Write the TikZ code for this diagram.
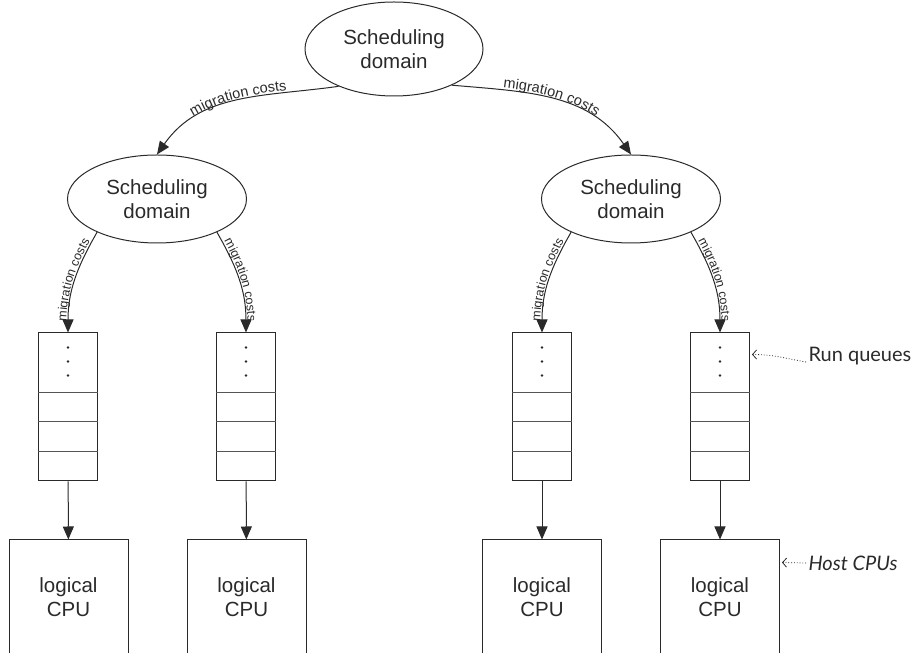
\documentclass[tikz,border=0pt]{standalone}
\usepackage{fontspec}
\setmainfont{Liberation Sans}
\newfontfamily\annofont{Lato}
\usetikzlibrary{shapes.geometric,arrows.meta,decorations.text}
\definecolor{ln}{HTML}{2A2A2A}
\definecolor{qg}{HTML}{555555}
\tikzset{
  dom/.style={ellipse, draw=ln, text=ln, inner sep=0pt, align=center,
    font=\fontsize{20.5}{24}\selectfont},
  queue/.style={rectangle, draw=ln, minimum width=59pt, minimum height=148pt, inner sep=0pt},
  cpu/.style={rectangle, draw=ln, text=ln, minimum width=119pt, minimum height=115pt,
    inner sep=0pt, align=center, font=\fontsize{20.5}{24}\selectfont},
  arr/.style={draw=ln, line width=1pt, -{Triangle[length=13pt,width=11pt]}},
  qline/.style={draw=qg, line width=1pt},
  anno/.style={text=ln, inner sep=0pt, anchor=west, font=\annofont\fontsize{20}{24}\selectfont},
  annoarr/.style={draw=ln, dotted, line width=0.8pt, -{Straight Barb[length=4pt,width=9pt]}},
  biglab/.style={decorate, decoration={text along path, text align=center, raise=2pt,
    text={|\fontsize{14.5}{14.5}\selectfont\color{ln}|migration costs}}},
  smalllab/.style={decorate, decoration={text along path, text align=center, raise=2pt,
    text={|\fontsize{12.5}{12.5}\selectfont\color{ln}|migration costs}}}
}
\begin{document}
\begin{tikzpicture}[x=1pt,y=1pt,line width=1pt]
\useasboundingbox (0,0) rectangle (916,653);

% scheduling domains
\node[dom, minimum width=178pt, minimum height=94pt] (top) at (394,604) {Scheduling\\domain};
\node[dom, minimum width=179pt, minimum height=88pt] (L) at (157,454) {Scheduling\\domain};
\node[dom, minimum width=179pt, minimum height=88pt] (R) at (631,454) {Scheduling\\domain};

% run queues
\node[queue] (q1) at (68,246) {};
\node[queue] (q2) at (246,246) {};
\node[queue] (q3) at (542,246) {};
\node[queue] (q4) at (720,246) {};
\foreach \q in {q1,q2,q3,q4}{
  \foreach \d in {60,89,119}{
    \draw[qline] ([yshift=-\d pt]\q.north west) -- ([yshift=-\d pt]\q.north east);
  }
  \foreach \d in {15,29,43}{
    \fill[ln] ([yshift=-\d pt]\q.north) circle (1.3pt);
  }
}

% logical CPUs
\node[cpu] (c1) at (68.5,55.5) {logical\\CPU};
\node[cpu] (c2) at (246.5,55.5) {logical\\CPU};
\node[cpu] (c3) at (542,55.5) {logical\\CPU};
\node[cpu] (c4) at (720,55.5) {logical\\CPU};

% queue -> cpu
\draw[arr] (q1) -- (c1);
\draw[arr] (q2) -- (c2);
\draw[arr] (q3) -- (c3);
\draw[arr] (q4) -- (c4);

% top migrations
\draw[arr] (top.214) to[out=188,in=55] (L.north);
\path[biglab] (L.north) to[out=55,in=188] (top.214);
\draw[arr] (top.328) to[out=-5,in=125] (R.north);
\path[biglab] (top.328) to[out=-5,in=125] (R.north);

% lower migrations
\draw[arr] (L.209) to[out=240,in=90] (q1.north);
\path[smalllab] (q1.north) to[out=90,in=240] (L.209);
\draw[arr] (L.331) to[out=300,in=90] (q2.north);
\path[smalllab] (L.331) to[out=300,in=90] (q2.north);
\draw[arr] (R.209) to[out=240,in=90] (q3.north);
\path[smalllab] (q3.north) to[out=90,in=240] (R.209);
\draw[arr] (R.331) to[out=300,in=90] (q4.north);
\path[smalllab] (R.331) to[out=300,in=90] (q4.north);

% annotations
\node[anno] (rq) at (808,297) {Run queues};
\node[anno] (hc) at (808,90) {\itshape Host CPUs};
\draw[annoarr] ([xshift=-2pt,yshift=-6pt]rq.west) to[out=170,in=0] ([xshift=2pt,yshift=-22pt]q4.north east);
\draw[annoarr] ([xshift=-2pt]hc.west) -- ([xshift=2pt,yshift=-23pt]c4.north east);
\end{tikzpicture}
\end{document}
